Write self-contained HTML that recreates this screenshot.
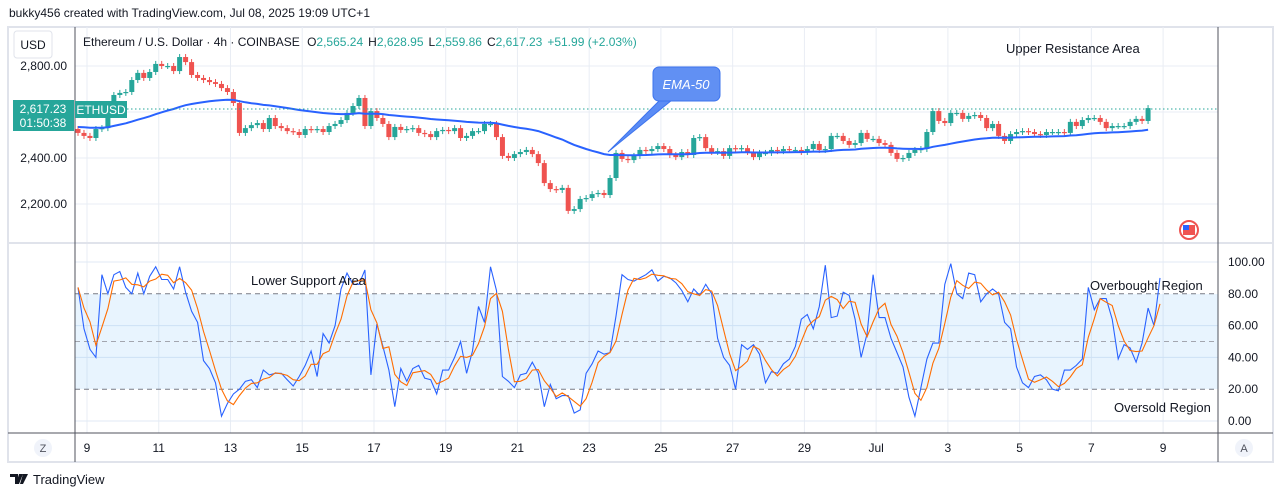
<!DOCTYPE html>
<html><head><meta charset="utf-8"><style>
html,body{margin:0;padding:0;background:#fff;}
body{width:1281px;height:497px;overflow:hidden;font-family:"Liberation Sans",sans-serif;}
svg text{font-family:"Liberation Sans",sans-serif;}
</style></head><body>
<svg id="chart" width="1281" height="497" viewBox="0 0 1281 497" xmlns="http://www.w3.org/2000/svg">
<rect x="0" y="0" width="1281" height="497" fill="#fff"/>
<text x="9" y="17" font-size="12" fill="#131722">bukky456 created with TradingView.com, Jul 08, 2025 19:09 UTC+1</text>
<rect x="8" y="27" width="1265" height="435" fill="#fff" stroke="#e0e3eb" stroke-width="2"/>
<g id="grid"></g>
<rect x="75" y="294" width="1143" height="95" fill="#2196f3" fill-opacity="0.1"/>
<g id="stochlines"></g>
<g id="candles"></g>
<path id="ema" fill="none" stroke="#2962ff" stroke-width="2"/>
<line x1="75" y1="109" x2="1218" y2="109" stroke="#26a69a" stroke-dasharray="1.5,2.5"/>
<polyline id="kline" fill="none" stroke="#2962ff" stroke-width="1.1"/>
<polyline id="dline" fill="none" stroke="#ff6d00" stroke-width="1.1"/>
<line x1="8" y1="243" x2="1273" y2="243" stroke="#e0e3eb" stroke-width="2"/>
<line x1="75" y1="27" x2="75" y2="462" stroke="#50535e"/>
<line x1="1218" y1="27" x2="1218" y2="462" stroke="#50535e"/>
<line x1="8" y1="433" x2="1273" y2="433" stroke="#50535e"/>
<g id="axes" font-size="12" fill="#131722"></g>
<g><rect x="14" y="31" width="38" height="27" rx="3" fill="#fff" stroke="#e0e3eb"/><text x="33" y="49" font-size="12" text-anchor="middle" fill="#131722">USD</text></g>
<text x="83" y="46" font-size="12" fill="#131722">Ethereum / U.S. Dollar · 4h · COINBASE <tspan dx="4">O</tspan><tspan fill="#26a69a">2,565.24</tspan><tspan dx="5">H</tspan><tspan fill="#26a69a">2,628.95</tspan><tspan dx="5">L</tspan><tspan fill="#26a69a">2,559.86</tspan><tspan dx="5">C</tspan><tspan fill="#26a69a">2,617.23</tspan><tspan dx="5" fill="#26a69a">+51.99 (+2.03%)</tspan></text>
<g><rect x="13" y="100" width="61" height="31" fill="#26a69a"/><text x="43" y="113" font-size="12" text-anchor="middle" fill="#fff">2,617.23</text><text x="43" y="127" font-size="12" text-anchor="middle" fill="#fff">01:50:38</text></g>
<g><rect x="75" y="101" width="52" height="17" fill="#26a69a"/><text x="101" y="114" font-size="12" text-anchor="middle" fill="#fff">ETHUSD</text></g>
<text x="1006" y="53" font-size="13" fill="#131722">Upper Resistance Area</text>
<g><path d="M660,100 L608,152 L672,100 Z" fill="#5b8cf5" stroke="#3d74ee"/><rect x="653" y="67" width="67" height="34" rx="6" fill="#6190f3" stroke="#3d74ee"/><text x="686" y="89" font-size="13" font-style="italic" text-anchor="middle" fill="#fff">EMA-50</text></g>
<g><circle cx="1189" cy="230" r="9" fill="#fff" stroke="#ef5350" stroke-width="2"/><rect x="1183" y="225" width="12" height="10" fill="#ef5350"/><rect x="1183" y="225" width="6" height="5" fill="#2962ff"/></g>
<text x="251" y="285" font-size="13" fill="#131722">Lower Support Area</text>
<text x="1090" y="290" font-size="13" fill="#131722">Overbought Region</text>
<text x="1114" y="412" font-size="13" fill="#131722">Oversold Region</text>
<g><circle cx="43" cy="448" r="9" fill="#f0f3fa"/><text x="43" y="452" font-size="11" text-anchor="middle" fill="#50535e">Z</text></g>
<g><circle cx="1244" cy="448" r="9" fill="#f0f3fa"/><text x="1244" y="452" font-size="11" text-anchor="middle" fill="#50535e">A</text></g>
<g><path d="M10,474 h8 v10 h-3 v-7 h-5 z M19,474 h4 l-4,10 h-3 z M23,474 h5 l-5,10 h-3 z" fill="#131722"/><text x="33" y="484" font-size="13" fill="#131722">TradingView</text></g>
</svg>
<script>
const closes=[2509,2496,2487,2526,2530,2600,2674,2683,2687,2739,2770,2748,2774,2809,2800,2800,2778,2839,2817,2761,2748,2739,2730,2722,2704,2687,2639,2509,2530,2543,2552,2526,2574,2539,2530,2517,2513,2500,2526,2522,2526,2513,2539,2548,2565,2596,2626,
2661,2539,2604,2574,2548,2491,2535,2522,2526,2530,2509,2504,2491,2517,2522,2517,2530,2487,2496,2517,2517,2548,2548,2491,2409,2400,2417,2426,2435,2417,2378,2291,2265,2261,2270,2170,2178,2222,2226,2243,
2248,2239,2313,2422,2396,2391,2409,2435,2430,2439,2452,2439,2413,2404,2426,2413,2487,2491,2443,2426,2430,2409,2443,2439,2443,2426,2404,2422,2422,2435,2430,2439,2435,2435,2426,2439,2461,2435,2439,2496,2496,2474,2457,2465,2509,2483,2483,2465,2457,2422,
2396,2400,2422,2435,2439,2513,2604,2561,2552,2596,2596,2570,2583,2587,2574,2530,2548,2496,2474,2504,2513,2517,2513,2504,2500,2513,2513,2513,2509,2557,2539,2565,2574,2574,2557,2530,2539,2539,2539,2557,2570,2561,2617];
const stochK=[84,58,45,40,92,80,92,94,84,80,93,80,91,97,89,89,83,97,81,69,62,38,33,24,3,11,17,20,25,26,21,32,29,30,30,26,22,28,35,44,28,55,49,60,83,93,86,86,95,29,61,47,32,9,33,25,33,35,27,26,17,32,32,40,50,30,44,72,62,97,82,28,25,21,29,30,37,30,9,23,14,16,16,5,7,30,36,44,42,43,66,92,89,88,90,
92,95,88,91,90,87,82,75,83,79,86,80,52,40,35,20,48,45,48,42,24,31,30,36,39,47,64,67,58,72,98,65,66,81,79,64,40,55,92,65,65,52,43,34,15,3,21,39,49,49,86,99,80,77,93,92,75,80,83,80,62,58,34,24,21,28,29,26,20,19,32,32,35,39,84,70,77,77,64,39,48,46,37,49,71,60,90];
const priceTicks=[2800,2600,2400,2200];
const priceTickLabels=["2,800.00","","2,400.00","2,200.00"];
const stochTicks=[100,80,60,40,20,0];
const stochTickLabels=["100.00","80.00","60.00","40.00","20.00","0.00"];
const dateLabels=["9","11","13","15","17","19","21","23","25","27","29","Jul","3","5","7","9"];

const NS="http://www.w3.org/2000/svg";
const X0=78, STEP=5.978;
function xOf(i){return X0+i*STEP;}
function yPrice(p){return 66+(2800-p)*0.23;}
function yStoch(v){return 421-v*1.59;}
function mk(tag,attrs,parent){const e=document.createElementNS(NS,tag);for(const k in attrs)e.setAttribute(k,attrs[k]);parent.appendChild(e);return e;}

const grid=document.getElementById('grid');
dateLabels.forEach((d,i)=>{const x=87+i*71.74;
  const l=mk('line',{x1:x,y1:27,x2:x,y2:433,stroke:'#e9edf4'},grid);
  
  });
priceTicks.forEach(p=>{const l=mk('line',{x1:75,y1:yPrice(p),x2:1218,y2:yPrice(p),stroke:'#e9edf4'},grid);
  
  });
[100,60,40,0].forEach(v=>{const l=mk('line',{x1:75,y1:yStoch(v),x2:1218,y2:yStoch(v),stroke:'#e1eaf5'},grid);
  
  });

const sl=document.getElementById('stochlines');
[80,50,20].forEach(v=>{const l=mk('line',{x1:75,y1:yStoch(v),x2:1218,y2:yStoch(v),stroke:v===50?'#a3a6af':'#787b86','stroke-dasharray':'5,4'},sl);
  
  });

const axes=document.getElementById('axes');
priceTicks.forEach((p,i)=>{if(!priceTickLabels[i])return;const t=mk('text',{x:67,y:yPrice(p)+4,'text-anchor':'end'},axes);t.textContent=priceTickLabels[i];
  
  });
stochTicks.forEach((v,i)=>{const t=mk('text',{x:1228,y:yStoch(v)+4},axes);t.textContent=stochTickLabels[i];
  
  });
dateLabels.forEach((d,i)=>{const t=mk('text',{x:87+i*71.74,y:452,'text-anchor':'middle'},axes);t.textContent=d;
  
  });

const cg=document.getElementById('candles');
closes.forEach((c,i)=>{const o=i===0?2526:closes[i-1];const up=c>=o;const col=up?'#26a69a':'#ef5350';
  const x=xOf(i);const yt=yPrice(Math.max(o,c)),yb=yPrice(Math.min(o,c));
  const g=mk('g',{},cg);
  
  
  mk('line',{x1:x,y1:yt-3,x2:x,y2:yb+3,stroke:col,'stroke-width':1},g);
  mk('rect',{x:x-2.5,y:yt,width:5,height:Math.max(1.2,yb-yt),fill:col},g);});

let ema=2535;const k=2/51;let d='';
closes.forEach((c,i)=>{ema=i===0?ema:c*k+ema*(1-k);d+=(i?'L':'M')+xOf(i).toFixed(1)+','+yPrice(ema).toFixed(1);});
document.getElementById('ema').setAttribute('d',d);

let kp='',dp='';
stochK.forEach((v,i)=>{kp+=xOf(i).toFixed(1)+','+yStoch(v).toFixed(1)+' ';
  const a=stochK.slice(Math.max(0,i-2),i+1);const m=a.reduce((s,q)=>s+q,0)/a.length;
  dp+=xOf(i).toFixed(1)+','+yStoch(m).toFixed(1)+' ';});
document.getElementById('kline').setAttribute('points',kp);
document.getElementById('dline').setAttribute('points',dp);
</script>
</body></html>
